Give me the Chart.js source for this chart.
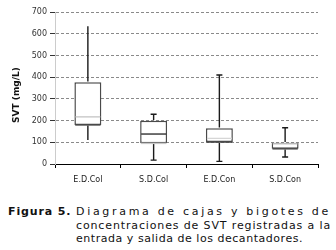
<!DOCTYPE html>
<html>
<head>
<meta charset="utf-8">
<script src="https://cdn.jsdelivr.net/npm/chart.js@4/dist/chart.umd.min.js"></script>
<style>
  html, body { margin: 0; padding: 0; background: #fff; }
  body { width: 336px; height: 250px; position: relative; overflow: hidden; }
  #wrap { position: absolute; left: 0; top: 0; width: 336px; height: 192px; }
  #cap { position: absolute; left: 0; top: 205px; width: 336px; font-family: "DejaVu Sans", Verdana, sans-serif; font-size: 11px; color: #111; }
  .ln { position: absolute; white-space: nowrap; line-height: 13px; }
  #fig { left: 8px; top: 0; font-weight: bold; }
  #l1 { left: 76px; top: 0; }
  #l2 { left: 76px; top: 14px; }
  #l3 { left: 76px; top: 27px; }
</style>
</head>
<body>
<div id="wrap"><canvas id="c" width="336" height="192"></canvas></div>
<div id="cap">
  <div class="ln" id="fig">Figura 5.</div>
  <div class="ln" id="l1">Diagrama de cajas y bigotes de</div>
  <div class="ln" id="l2">concentraciones de SVT registradas a la</div>
  <div class="ln" id="l3">entrada y salida de los decantadores.</div>
</div>
<script>
const categories = ['E.D.Col', 'S.D.Col', 'E.D.Con', 'S.D.Con'];
const minValues = [110, 18, 12, 32];
const q1Values = [180, 95, 101, 70];
const medianValues = [217, 138, 118, 93];
const q3Values = [377, 199, 165, 98];
const maxValues = [634, 229, 410, 167];
const yTickValues = [0, 100, 200, 300, 400, 500, 600, 700];
const yTitle = 'SVT (mg/L)';

// styles (kept separate from data)
const medianColors = ['#c4c4c4', '#222222', '#d6d6d6', '#cfcfcf'];
const q1EdgeColors = ['#4a4a4a', '#c8c8c8', '#4a4a4a', '#4a4a4a'];
const showCaps = [false, true, true, true];

const boxPlugin = {
  id: 'boxWhiskers',
  afterDatasetsDraw(chart) {
    const ctx = chart.ctx;
    const ys = chart.scales.y;
    const meta = chart.getDatasetMeta(0);
    ctx.save();
    categories.forEach((c, i) => {
      const bar = meta.data[i];
      const x = bar.x;
      const hw = bar.width / 2;
      const yMin = ys.getPixelForValue(minValues[i]);
      const yQ1 = ys.getPixelForValue(q1Values[i]);
      const yMed = ys.getPixelForValue(medianValues[i]);
      const yQ3 = ys.getPixelForValue(q3Values[i]);
      const yMax = ys.getPixelForValue(maxValues[i]);
      ctx.strokeStyle = '#1a1a1a';
      ctx.lineWidth = 1.4;
      ctx.beginPath();
      ctx.moveTo(x, yQ3 - 0.7); ctx.lineTo(x, yMax);
      ctx.moveTo(x, yQ1 + 0.7); ctx.lineTo(x, yMin);
      if (showCaps[i]) {
        ctx.moveTo(x - 3, yMax); ctx.lineTo(x + 3, yMax);
        ctx.moveTo(x - 3, yMin); ctx.lineTo(x + 3, yMin);
      }
      ctx.stroke();
      ctx.strokeStyle = medianColors[i];
      ctx.lineWidth = 1.3;
      ctx.beginPath();
      ctx.moveTo(x - hw + 1, yMed); ctx.lineTo(x + hw - 1, yMed);
      ctx.stroke();
      ctx.strokeStyle = q1EdgeColors[i];
      ctx.lineWidth = 1.5;
      ctx.beginPath();
      ctx.moveTo(x - hw + 0.8, yQ1); ctx.lineTo(x + hw - 0.8, yQ1);
      ctx.stroke();
    });
    const yc = chart.chartArea.top + (chart.chartArea.bottom - chart.chartArea.top) / 2 + 7;
    ctx.translate(17, yc);
    ctx.rotate(-Math.PI / 2);
    ctx.font = 'bold 9px "DejaVu Sans", Verdana, sans-serif';
    ctx.fillStyle = '#111';
    ctx.textAlign = 'center';
    ctx.textBaseline = 'middle';
    ctx.fillText(yTitle, 0, 0);
    ctx.restore();
  }
};

new Chart(document.getElementById('c'), {
  type: 'bar',
  data: {
    labels: categories,
    datasets: [{
      data: categories.map((c, i) => [q1Values[i], q3Values[i]]),
      backgroundColor: '#ffffff',
      borderColor: '#4a4a4a',
      borderWidth: 1.5,
      borderSkipped: false,
      barPercentage: 0.41,
      categoryPercentage: 1
    }]
  },
  options: {
    responsive: false,
    animation: false,
    devicePixelRatio: 1,
    layout: { padding: { left: 0, right: 18, top: 12, bottom: 0 } },
    plugins: { legend: { display: false }, tooltip: { enabled: false } },
    scales: {
      x: {
        grid: { display: true, drawOnChartArea: false, drawTicks: true, tickLength: 4, color: '#000', offset: true },
        border: { display: true, color: '#000', width: 1 },
        ticks: { color: '#222', padding: 7, font: { family: '"DejaVu Sans", Verdana, sans-serif', size: 8 } },
        afterFit(s) { s.height = 28; }
      },
      y: {
        min: 0, max: 700,
        afterBuildTicks(s) { s.ticks = yTickValues.map(v => ({ value: v })); },
        grid: { color: '#8a8a8a', lineWidth: 1, drawTicks: true, tickLength: 5, tickColor: '#333', tickBorderDash: [] },
        border: { display: true, color: '#cccccc', width: 1, dash: [3, 2] },
        ticks: { color: '#333', padding: 3, font: { family: '"DejaVu Sans", Verdana, sans-serif', size: 8 } },
        afterFit(s) { s.width = 55; }
      }
    }
  },
  plugins: [boxPlugin]
});

// fit caption lines to the reference widths via letter spacing
(function () {
  function fit(id, target) {
    const el = document.getElementById(id);
    const w = el.getBoundingClientRect().width;
    const n = el.textContent.length;
    const ls = (target - w) / n;
    el.style.letterSpacing = ls + 'px';
    return ls;
  }
  const ls2 = fit('l2', 330 - 76 + 1);
  fit('l3', 303 - 76);
  fit('l1', 330 - 76 + 1);
  document.getElementById('fig').style.letterSpacing = ls2 + 'px';
})();
</script>
</body>
</html>
